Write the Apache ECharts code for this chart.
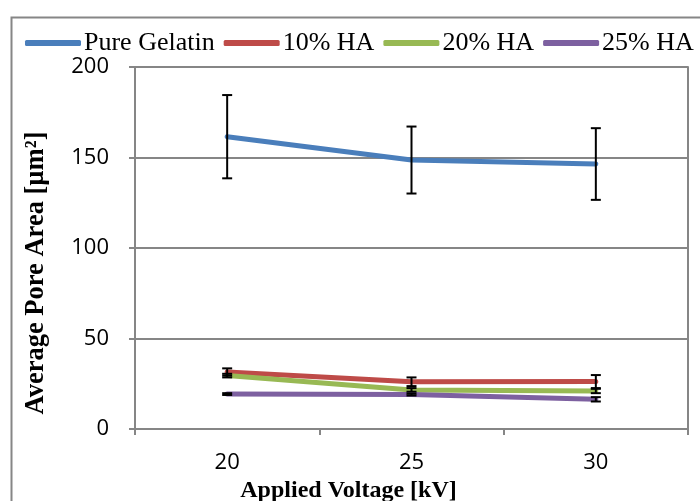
<!DOCTYPE html>
<html>
<head>
<meta charset="utf-8">
<script src="https://cdn.jsdelivr.net/npm/echarts@6/dist/echarts.min.js"></script>
<style>
  html, body { margin: 0; padding: 0; background: #fff; }
  #main { width: 700px; height: 501px; }
</style>
</head>
<body>
<div id="main"></div>
<script>
// data
var voltages = ['20', '25', '30'];
var pureGelatin = [161.5, 148.6, 146.4];
var pureGelatinErr = [23, 18.5, 19.8];
var ha10 = [31.5, 26.1, 26.2];
var ha10Err = [2, 2.4, 3.6];
var ha20 = [29.5, 21.6, 21];
var ha20Err = [1, 1, 1.2];
var ha25 = [19.3, 19, 16.4];
var ha25Err = [0.5, 0.5, 1.2];
var yTicks = [0, 50, 100, 150, 200];
var seriesNames = ['Pure Gelatin', '10% HA', '20% HA', '25% HA'];

var myChart = echarts.init(document.getElementById('main'));

function errData(vals, errs) {
    return vals.map(function (v, i) {
        return [i, v - errs[i], v + errs[i]];
    });
}

function lineSeries(name, color, data) {
    return {
        name: name,
        type: 'line',
        data: data,
        symbol: 'none',
        lineStyle: { width: 5, color: color, cap: 'round', join: 'round' },
        itemStyle: { color: color },
        z: 3
    };
}

// 误差线
function errSeries(vals, errs) {
    return {
        type: 'custom',
        data: errData(vals, errs),
        z: 5,
        silent: true,
        renderItem: function (params, api) {
            var top = api.coord([api.value(0), api.value(2)]);
            var bot = api.coord([api.value(0), api.value(1)]);
            var w = 5;
            var st = { stroke: '#000', lineWidth: 2 };
            return {
                type: 'group',
                children: [
                    { type: 'line', shape: { x1: top[0], y1: top[1], x2: bot[0], y2: bot[1] }, style: st },
                    { type: 'line', shape: { x1: top[0] - w, y1: top[1], x2: top[0] + w, y2: top[1] }, style: st },
                    { type: 'line', shape: { x1: bot[0] - w, y1: bot[1], x2: bot[0] + w, y2: bot[1] }, style: st }
                ]
            };
        }
    };
}

var axisGray = '#868686';

option = {
    animation: false,
    backgroundColor: '#fff',
    graphic: [{
        type: 'rect',
        left: 9,
        top: 15,
        shape: { width: 800, height: 600 },
        style: { fill: 'none', stroke: axisGray, lineWidth: 2 },
        silent: true
    }],
    legend: {
        left: 20,
        top: 25,
        width: 1200,
        itemWidth: 56,
        itemHeight: 6,
        itemGap: 9,
        icon: 'roundRect',
        textStyle: { fontFamily: 'Liberation Serif', fontSize: 26, color: '#000', padding: [0, 0, 0, -2] },
        data: seriesNames
    },
    grid: {
        left: 135,
        right: 12,
        top: 67,
        bottom: 72,
        containLabel: false,
        outerBoundsMode: 'none'
    },
    xAxis: {
        type: 'category',
        data: voltages,
        boundaryGap: true,
        axisLine: { lineStyle: { color: axisGray, width: 2 } },
        axisTick: { show: true, length: 6, lineStyle: { color: axisGray, width: 2 } },
        axisLabel: { color: '#000', fontFamily: 'Open Sans', fontSize: 22, margin: 23 },
        name: 'Applied Voltage [kV]',
        nameLocation: 'middle',
        nameGap: 47,
        nameTextStyle: {
            fontFamily: 'Liberation Serif', fontWeight: 'bold', fontSize: 24, color: '#000',
            padding: [0, 126, 0, 0]
        }
    },
    yAxis: [{
        type: 'value',
        min: yTicks[0],
        max: yTicks[yTicks.length - 1],
        interval: yTicks[1] - yTicks[0],
        axisLine: { show: true, lineStyle: { color: axisGray, width: 2 } },
        axisTick: { show: true, length: 6, lineStyle: { color: axisGray, width: 2 } },
        axisLabel: { color: '#000', fontFamily: 'Open Sans', fontSize: 22, margin: 26 },
        splitLine: { show: true, lineStyle: { color: axisGray, width: 2 } },
        name: 'Average Pore Area [µm²]',
        nameLocation: 'middle',
        nameGap: 85,
        nameTextStyle: {
            fontFamily: 'Liberation Serif', fontWeight: 'bold', fontSize: 26.5, color: '#000',
            padding: [0, 50, 0, 0]
        }
    }, {
        type: 'value',
        position: 'right',
        min: yTicks[0],
        max: yTicks[yTicks.length - 1],
        interval: yTicks[1] - yTicks[0],
        axisLine: { show: true, lineStyle: { color: axisGray, width: 2 } },
        axisTick: { show: false },
        axisLabel: { show: false },
        splitLine: { show: false }
    }],
    series: [
        lineSeries(seriesNames[0], '#4a7ebb', pureGelatin),
        lineSeries(seriesNames[1], '#be4b48', ha10),
        lineSeries(seriesNames[2], '#98b954', ha20),
        lineSeries(seriesNames[3], '#7d60a0', ha25),
        errSeries(pureGelatin, pureGelatinErr),
        errSeries(ha10, ha10Err),
        errSeries(ha20, ha20Err),
        errSeries(ha25, ha25Err)
    ]
};

myChart.setOption(option);
</script>
</body>
</html>
